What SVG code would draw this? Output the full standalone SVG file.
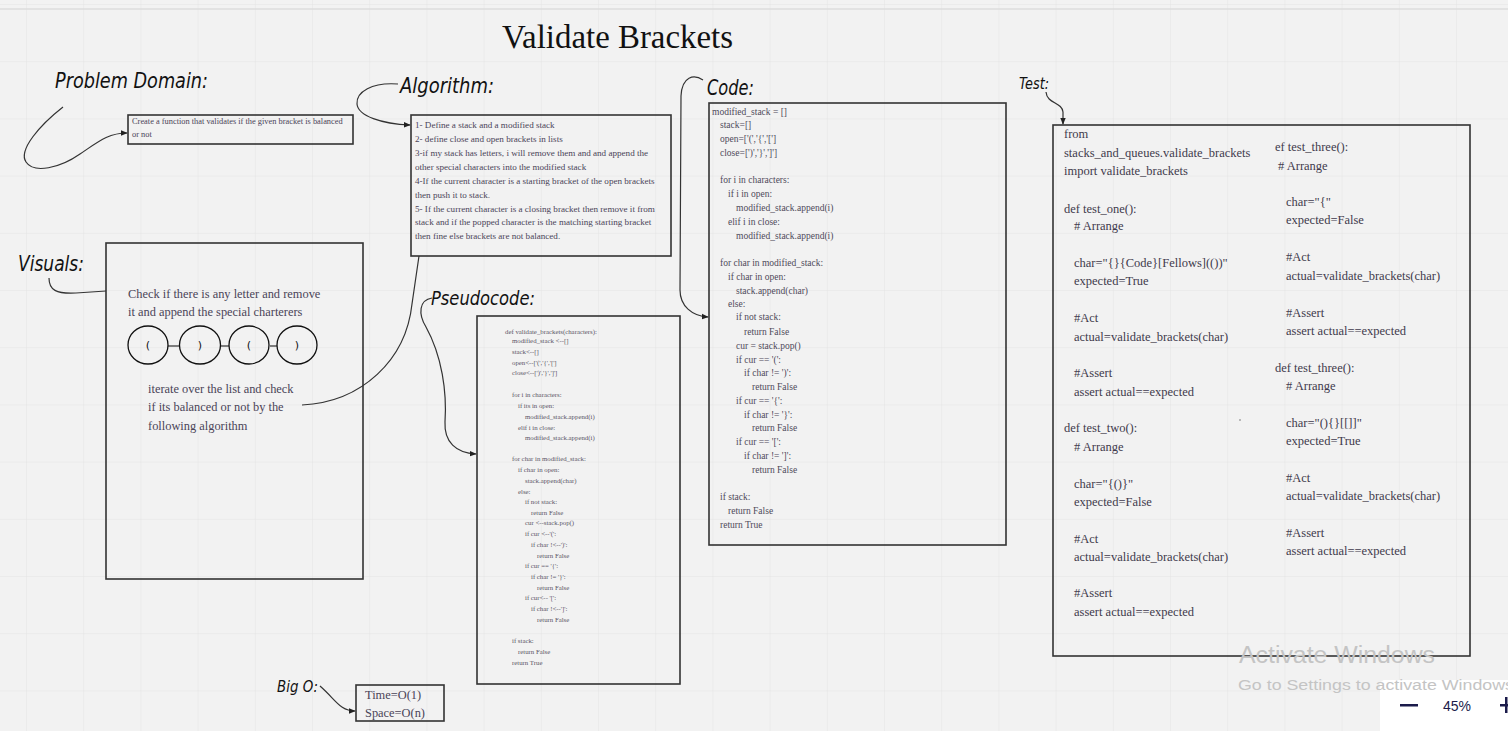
<svg xmlns="http://www.w3.org/2000/svg" width="1508" height="731" viewBox="0 0 1508 731">
<defs>
<pattern id="grid" x="26" y="4" width="57.2" height="57.2" patternUnits="userSpaceOnUse">
<path d="M0,0 L0,57.2 M0,0 L57.2,0" fill="none" stroke="#e3e3e3" stroke-width="1"/>
</pattern>
<marker id="arr" viewBox="0 0 10 10" refX="9" refY="5" markerWidth="7" markerHeight="7" orient="auto" markerUnits="userSpaceOnUse">
<path d="M0,1 L10,5 L0,9 z" fill="#222"/>
</marker>
<style>
.hand{font-family:"DejaVu Sans",sans-serif;font-style:oblique;font-weight:300;font-stretch:condensed;fill:#111}
.box{fill:none;stroke:#333;stroke-width:1.6}
.t{font-family:"Liberation Serif",serif;fill:#4a4458}
.alg{font-size:9.1px}
.pc{font-size:6.8px;fill:#5a5566}
.cd{font-size:9.5px;fill:#4f4a5a}
.ts{font-size:12.5px;fill:#3f3a4c}
.vs{font-size:12.4px;fill:#4a4458}
.conn{fill:none;stroke:#333;stroke-width:1.2}
</style>
</defs>
<rect x="0" y="0" width="1508" height="731" fill="#f2f2f2"/>
<rect x="0" y="0" width="1508" height="731" fill="url(#grid)"/>
<line x1="0" y1="9" x2="1508" y2="9" stroke="#dcdcdc" stroke-width="1.5"/>

<g id="title">
<text x="502" y="48" font-family="Liberation Serif, serif" font-size="34" fill="#111" textLength="231" lengthAdjust="spacingAndGlyphs">Validate Brackets</text>
</g>

<g id="labels">
<text class="hand" x="55" y="88" font-size="22" textLength="153" lengthAdjust="spacingAndGlyphs">Problem Domain:</text>
<text class="hand" x="400" y="93" font-size="22" textLength="94" lengthAdjust="spacingAndGlyphs">Algorithm:</text>
<text class="hand" x="707" y="95" font-size="22" textLength="47" lengthAdjust="spacingAndGlyphs">Code:</text>
<text class="hand" x="1019" y="89" font-size="15" textLength="30" lengthAdjust="spacingAndGlyphs">Test:</text>
<text class="hand" x="18" y="271" font-size="22" textLength="66" lengthAdjust="spacingAndGlyphs">Visuals:</text>
<text class="hand" x="431" y="305" font-size="20" textLength="104" lengthAdjust="spacingAndGlyphs">Pseudocode:</text>
<text class="hand" x="277" y="692" font-size="16" textLength="41" lengthAdjust="spacingAndGlyphs">Big O:</text>
</g>

<g id="problem-domain">
<rect class="box" x="128" y="115" width="225" height="29"/>
<text class="t" font-size="8.4" x="132" y="124">Create a function that validates if the given bracket is balanced</text>
<text class="t" font-size="8.4" x="132" y="137">or not</text>
</g>

<g id="algorithm">
<rect class="box" x="411" y="115" width="260" height="141"/>
<text class="t alg" x="415" y="128">1- Define a stack and a modified stack</text>
<text class="t alg" x="415" y="142">2- define close and open brackets in lists</text>
<text class="t alg" x="415" y="156">3-if my stack has letters, i will remove them and and append the</text>
<text class="t alg" x="415" y="170">other special characters into the modified stack</text>
<text class="t alg" x="415" y="184">4-If the current character is a starting bracket of the open brackets</text>
<text class="t alg" x="415" y="198">then push it to stack.</text>
<text class="t alg" x="415" y="212">5- If the current character is a closing bracket then remove it from</text>
<text class="t alg" x="415" y="225">stack and if the popped character is the matching starting bracket</text>
<text class="t alg" x="415" y="239">then fine else brackets are not balanced.</text>
</g>

<g id="visuals">
<rect class="box" x="106" y="243" width="257" height="336"/>
<text class="t vs" x="128" y="298">Check if there is any letter and remove</text>
<text class="t vs" x="128" y="316">it and append  the special charterers</text>
<g stroke="#555" stroke-width="1.5">
<line x1="168" y1="346" x2="180" y2="346"/>
<line x1="221" y1="346" x2="229" y2="346"/>
<line x1="270" y1="346" x2="277" y2="346"/>
</g>
<g fill="none" stroke="#111" stroke-width="1.3">
<ellipse cx="148" cy="345" rx="20" ry="19"/>
<ellipse cx="200" cy="345" rx="20.5" ry="19"/>
<ellipse cx="249" cy="345" rx="20" ry="19"/>
<ellipse cx="297" cy="345" rx="20" ry="19"/>
</g>
<g font-family="DejaVu Sans, sans-serif" font-size="11" fill="#111" text-anchor="middle">
<text x="148" y="349">(</text>
<text x="200" y="349">)</text>
<text x="249" y="349">(</text>
<text x="297" y="349">)</text>
</g>
<text class="t vs" x="148" y="393">iterate over the list and check</text>
<text class="t vs" x="148" y="411">if its balanced or not by the</text>
<text class="t vs" x="148" y="430">following algorithm</text>
</g>

<g id="pseudocode">
<rect class="box" x="477" y="316" width="203" height="368"/>
<text class="t pc" x="505" y="334">def validate_brackets(characters):</text>
<text class="t pc" x="512" y="343" fill="#b8753a">modified_stack &lt;--[]</text>
<text class="t pc" x="512" y="354">stack&lt;--[]</text>
<text class="t pc" x="512" y="365">open&lt;--['(','{','[']</text>
<text class="t pc" x="512" y="375">close&lt;--[')','}',']']</text>
<text class="t pc" x="512" y="397">for i in characters:</text>
<text class="t pc" x="518" y="408">if its in  open:</text>
<text class="t pc" x="525" y="419">modified_stack.append(i)</text>
<text class="t pc" x="518" y="430">elif i in close:</text>
<text class="t pc" x="525" y="440">modified_stack.append(i)</text>
<text class="t pc" x="512" y="461">for char in modified_stack:</text>
<text class="t pc" x="518" y="472">if char in open:</text>
<text class="t pc" x="525" y="483">stack.append(char)</text>
<text class="t pc" x="518" y="494">else:</text>
<text class="t pc" x="525" y="504">if not stack:</text>
<text class="t pc" x="531" y="515">return False</text>
<text class="t pc" x="525" y="525">cur &lt;--stack.pop()</text>
<text class="t pc" x="525" y="536">if cur &lt;--'(':</text>
<text class="t pc" x="531" y="547">if char !&lt;--')':</text>
<text class="t pc" x="537" y="558">return False</text>
<text class="t pc" x="525" y="568">if cur == '{':</text>
<text class="t pc" x="531" y="579">if char != '}':</text>
<text class="t pc" x="537" y="590">return False</text>
<text class="t pc" x="525" y="600">if cur&lt;-- '[':</text>
<text class="t pc" x="531" y="611">if char !&lt;--']':</text>
<text class="t pc" x="537" y="622">return False</text>
<text class="t pc" x="512" y="643">if stack:</text>
<text class="t pc" x="518" y="654">return False</text>
<text class="t pc" x="512" y="665">return True</text>
</g>

<g id="code">
<rect class="box" x="709" y="103" width="297" height="442"/>
<text class="t cd" x="712" y="115">modified_stack = []</text>
<text class="t cd" x="720" y="128">stack=[]</text>
<text class="t cd" x="720" y="142">open=['(','{','[']</text>
<text class="t cd" x="720" y="156">close=[')','}',']']</text>
<text class="t cd" x="720" y="183">for i in characters:</text>
<text class="t cd" x="728" y="197">if i in open:</text>
<text class="t cd" x="736" y="211">modified_stack.append(i)</text>
<text class="t cd" x="728" y="225">elif i in close:</text>
<text class="t cd" x="736" y="239">modified_stack.append(i)</text>
<text class="t cd" x="720" y="266">for char in modified_stack:</text>
<text class="t cd" x="728" y="280">if char in open:</text>
<text class="t cd" x="736" y="294">stack.append(char)</text>
<text class="t cd" x="728" y="307">else:</text>
<text class="t cd" x="736" y="320">if not stack:</text>
<text class="t cd" x="744" y="335">return False</text>
<text class="t cd" x="736" y="349">cur = stack.pop()</text>
<text class="t cd" x="736" y="363">if cur == '(':</text>
<text class="t cd" x="744" y="376">if char != ')':</text>
<text class="t cd" x="752" y="390">return False</text>
<text class="t cd" x="736" y="404">if cur == '{':</text>
<text class="t cd" x="744" y="418">if char != '}':</text>
<text class="t cd" x="752" y="431">return False</text>
<text class="t cd" x="736" y="445">if cur == '[':</text>
<text class="t cd" x="744" y="459">if char != ']':</text>
<text class="t cd" x="752" y="473">return False</text>
<text class="t cd" x="720" y="500">if stack:</text>
<text class="t cd" x="728" y="514">return False</text>
<text class="t cd" x="720" y="528">return True</text>
</g>

<g id="test">
<rect class="box" x="1053" y="125" width="417" height="531"/>
<text class="t ts" x="1064" y="138">from</text>
<text class="t ts" x="1064" y="157">stacks_and_queues.validate_brackets</text>
<text class="t ts" x="1064" y="175">import validate_brackets</text>
<text class="t ts" x="1064" y="213">def test_one():</text>
<text class="t ts" x="1074" y="230"># Arrange</text>
<text class="t ts" x="1074" y="267">char="{}{Code}[Fellows](())"</text>
<text class="t ts" x="1074" y="285">expected=True</text>
<text class="t ts" x="1074" y="322">#Act</text>
<text class="t ts" x="1074" y="341">actual=validate_brackets(char)</text>
<text class="t ts" x="1074" y="377">#Assert</text>
<text class="t ts" x="1074" y="396">assert actual==expected</text>
<text class="t ts" x="1064" y="432">def test_two():</text>
<text class="t ts" x="1074" y="451"># Arrange</text>
<text class="t ts" x="1074" y="488">char="{()}"</text>
<text class="t ts" x="1074" y="506">expected=False</text>
<text class="t ts" x="1074" y="543">#Act</text>
<text class="t ts" x="1074" y="561">actual=validate_brackets(char)</text>
<text class="t ts" x="1074" y="597">#Assert</text>
<text class="t ts" x="1074" y="616">assert actual==expected</text>
<text class="t ts" x="1275" y="151">ef test_three():</text>
<text class="t ts" x="1278" y="170"># Arrange</text>
<text class="t ts" x="1286" y="206">char="{"</text>
<text class="t ts" x="1286" y="224">expected=False</text>
<text class="t ts" x="1286" y="261">#Act</text>
<text class="t ts" x="1286" y="280">actual=validate_brackets(char)</text>
<text class="t ts" x="1286" y="317">#Assert</text>
<text class="t ts" x="1286" y="335">assert actual==expected</text>
<text class="t ts" x="1275" y="372">def test_three():</text>
<text class="t ts" x="1286" y="390"># Arrange</text>
<text class="t ts" x="1286" y="427">char="(){}[[]]"</text>
<text class="t ts" x="1286" y="445">expected=True</text>
<text class="t ts" x="1286" y="482">#Act</text>
<text class="t ts" x="1286" y="500">actual=validate_brackets(char)</text>
<text class="t ts" x="1286" y="537">#Assert</text>
<text class="t ts" x="1286" y="555">assert actual==expected</text>
<circle cx="1240" cy="420" r="0.7" fill="#555"/>
</g>

<g id="big-o">
<rect class="box" x="356" y="685" width="88" height="36"/>
<text class="t" font-size="12.4" x="365" y="699">Time=O(1)</text>
<text class="t" font-size="12.4" x="365" y="717">Space=O(n)</text>
</g>

<g id="connectors">
<path class="conn" d="M63,107 C40,125 18,150 26,162 C34,174 60,168 80,154 C98,142 108,133 127,133" marker-end="url(#arr)"/>
<path class="conn" d="M398,84 C372,82 356,92 357,104 C358,116 382,124 410,125" marker-end="url(#arr)"/>
<path class="conn" d="M703,80 C694,74 682,76 681,96 L680,290 C680,306 692,316 708,317" marker-end="url(#arr)"/>
<path class="conn" d="M1046,92 C1047,104 1062,102 1063,112 L1063,124" marker-end="url(#arr)"/>
<path class="conn" d="M49,278 C49,290 56,294 76,293 L106,291"/>
<path class="conn" d="M302,405 C362,402 406,360 412,304 L419,256"/>
<path class="conn" d="M432,298 C419,300 418,314 426,327 C442,356 447,392 445,422 C444,442 456,453 476,454" marker-end="url(#arr)"/>
<path class="conn" d="M320,686 C336,700 340,711 355,711" marker-end="url(#arr)"/>
</g>

<g id="screen-overlay">
<rect x="1380" y="680" width="140" height="60" rx="5" fill="#ffffff"/>
<text x="1239" y="663" font-family="Liberation Sans, sans-serif" font-size="23" fill="#c4c4c4" textLength="196" lengthAdjust="spacingAndGlyphs">Activate Windows</text>
<text x="1238" y="690" font-family="Liberation Sans, sans-serif" font-size="15.5" fill="#c4c4c4" textLength="276" lengthAdjust="spacingAndGlyphs">Go to Settings to activate Windows</text>
<rect x="1400" y="704" width="18" height="2.5" fill="#1b1b4b"/>
<text x="1443" y="711" font-family="Liberation Sans, sans-serif" font-size="14" fill="#1b1b4b">45%</text>
<rect x="1500" y="704" width="8" height="2.5" fill="#1b1b4b"/>
<rect x="1505" y="697" width="2.5" height="16" fill="#1b1b4b"/>
</g>
</svg>
